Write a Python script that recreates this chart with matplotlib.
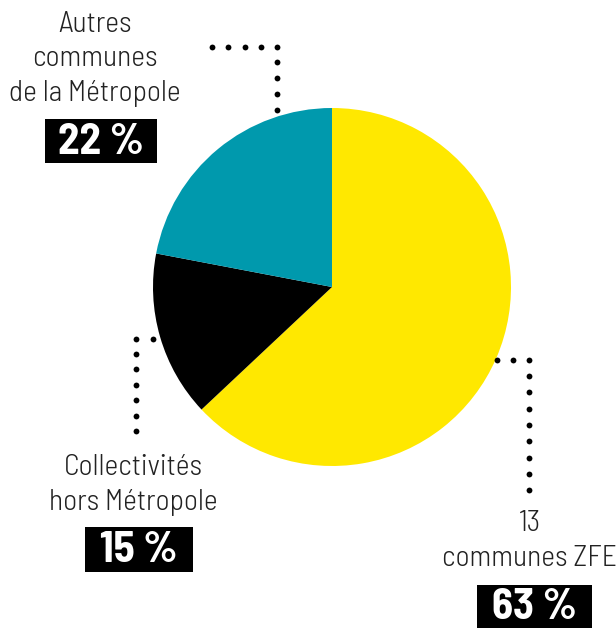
import matplotlib
matplotlib.use("Agg")
import matplotlib.pyplot as plt

categories = ["13\ncommunes ZFE", "Collectivités\nhors Métropole", "Autres\ncommunes\nde la Métropole"]
values = [63, 15, 22]
pct_labels = ["63 %", "15 %", "22 %"]
colors = ["#FFE800", "#000000", "#0099AD"]

W, H = 616, 628
fig = plt.figure(figsize=(W / 100, H / 100), dpi=100)
ax = fig.add_axes([0, 0, 1, 1])

def Y(y):
    return H - y

ax.pie(values, colors=colors, startangle=90, counterclock=False,
       center=(332, Y(287)), radius=179, wedgeprops=dict(linewidth=0))
ax.set_xlim(0, W)
ax.set_ylim(0, H)
ax.set_aspect("equal")
ax.axis("off")

FAM = ["Barlow Semi Condensed", "DejaVu Sans"]
lab_font = dict(family=FAM, fontweight=300, fontsize=21.3, color="#222222")
num_font = dict(family=FAM, fontweight=700, fontsize=31, color="white")

def dots(xs, ys):
    ax.plot(xs, [Y(v) for v in ys], "o", color="black", ms=4.2, mew=0)

# top-left
dots([212, 228, 245, 261, 277], [47] * 5)
dots([277] * 4, [62, 78, 94, 110])
# bottom-left
dots([136, 153], [339, 339])
dots([136] * 6, [354, 369, 385, 400, 416, 431])
# right
dots([497, 513, 529], [360, 360, 360])
dots([529] * 8, [376, 392, 409, 425, 441, 458, 474, 490])

# labels
ax.text(95, Y(59), categories[2], ha="center", va="center", linespacing=1.38, **lab_font)
ax.text(133, Y(485), categories[1], ha="center", va="center", linespacing=1.38, **lab_font)
ax.text(530, Y(541), categories[0], ha="center", va="center", linespacing=1.38, **lab_font)

def box(x0, y0, x1, y1, txt):
    ax.add_patch(plt.Rectangle((x0, Y(y1)), x1 - x0, y1 - y0, color="black", lw=0))
    ax.text((x0 + x1) / 2, Y((y0 + y1) / 2) - 1, txt, ha="center", va="center", **num_font)

box(45, 119, 157, 163, pct_labels[2])
box(85, 527, 193, 572, pct_labels[1])
box(477, 585, 592, 628, pct_labels[0])

fig.savefig("out.png", dpi=100)
